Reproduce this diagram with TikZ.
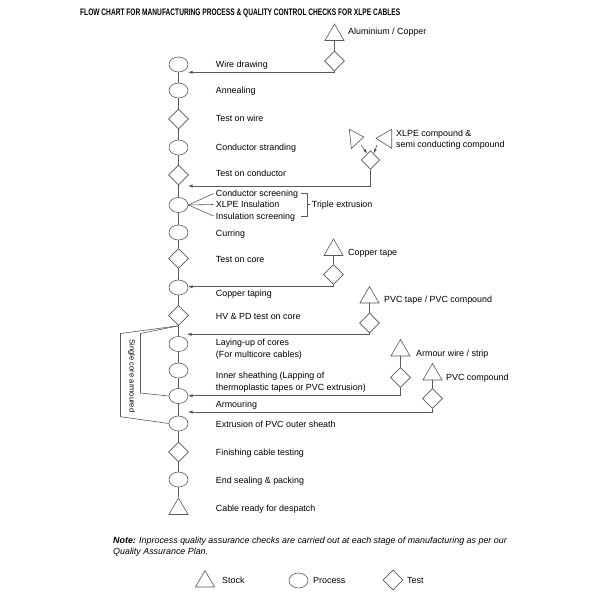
\documentclass[tikz,border=0pt]{standalone}
\usepackage{fontspec}
\setmainfont{Liberation Sans}
\usetikzlibrary{shapes.geometric,arrows.meta}
\tikzset{
  ln/.style={draw=black!65, line width=0.6pt},
  proc/.style={ellipse, ln, minimum width=19pt, minimum height=15pt, inner sep=0pt},
  test/.style={diamond, ln, minimum width=20pt, minimum height=20pt, inner sep=0pt},
  stock/.style={regular polygon, regular polygon sides=3, ln, minimum size=22pt, inner sep=0pt},
  lbl/.style={anchor=base west, inner sep=0pt, font=\fontsize{8.9}{11}\selectfont},
  arr/.style={ln, -{Latex[length=4.5pt,width=3.2pt]}}
}
\begin{document}
\begin{tikzpicture}[x=1pt,y=-1pt]
\useasboundingbox[fill=white] (0,0) rectangle (600,600);
% title
\node[anchor=base west, inner sep=0pt] (title) at (80,15.3)
  {\resizebox{320pt}{6.6pt}{\bfseries FLOW CHART FOR MANUFACTURING PROCESS \& QUALITY CONTROL CHECKS FOR XLPE CABLES}};
% spine
\node[proc] (e1) at (178.5,64.5) {};
\node[proc] (e2) at (178.5,90.5) {};
\node[test] (d1) at (178.5,119) {};
\node[proc] (e3) at (178.5,147.5) {};
\node[test] (d2) at (178.5,175) {};
\node[proc] (e4) at (178.5,205) {};
\node[proc] (e5) at (178.5,232.5) {};
\node[test] (d3) at (178.5,258.5) {};
\node[proc] (e6) at (178.5,287.5) {};
\node[test] (d4) at (178.5,315.5) {};
\node[proc] (e7) at (178.5,344) {};
\node[proc] (e8) at (178.5,370.5) {};
\node[proc] (e9) at (178.5,396) {};
\node[proc] (e10) at (178.5,423.5) {};
\node[test] (d5) at (178.5,452) {};
\node[proc] (e11) at (178.5,479.5) {};
\node[stock] (t1) at (178.5,509) {};
\draw[ln] (e1) -- (e2) -- (d1) -- (e3) -- (d2) -- (e4) -- (e5) -- (d3) -- (e6) -- (d4) -- (e7) -- (e8) -- (e9) -- (e10) -- (d5) -- (e11) -- (t1);
% labels
\node[lbl] (l1) at (215.7,67.3) {Wire drawing};
\node[lbl] (l2) at (215.7,93.3) {Annealing};
\node[lbl] (l3) at (215.7,121.3) {Test on wire};
\node[lbl] (l4) at (215.7,150.3) {Conductor stranding};
\node[lbl] (l5) at (215.7,176.3) {Test on conductor};
\node[lbl] (l6a) at (215.7,196) {Conductor screening};
\node[lbl] (l6b) at (215.7,207.3) {XLPE Insulation};
\node[lbl] (l6c) at (215.7,219) {Insulation screening};
\node[lbl] (l6d) at (311.7,207.3) {Triple extrusion};
\node[lbl] (l7) at (215.7,236.3) {Curring};
\node[lbl] (l8) at (215.7,262.3) {Test on core};
\node[lbl] (l9) at (215.7,296.3) {Copper taping};
\node[lbl] (l10) at (215.7,319.3) {HV \& PD test on core};
\node[lbl] (l11a) at (215.7,345.3) {Laying-up of cores};
\node[lbl] (l11b) at (215.7,357.3) {(For multicore cables)};
\node[lbl] (l12a) at (215.7,378.3) {Inner sheathing (Lapping of};
\node[lbl] (l12b) at (215.7,390.3) {thermoplastic tapes or PVC extrusion)};
\node[lbl] (l13) at (215.7,407.3) {Armouring};
\node[lbl] (l14) at (215.7,427.3) {Extrusion of PVC outer sheath};
\node[lbl] (l15) at (215.7,455.3) {Finishing cable testing};
\node[lbl] (l16) at (215.7,483.3) {End sealing \& packing};
\node[lbl] (l17) at (215.7,511.3) {Cable ready for despatch};
% triple extrusion fan and bracket
\coordinate (fa) at (213.5,193.5);
\coordinate (fb) at (213.5,204.5);
\coordinate (fc) at (213.5,216);
\draw[ln] (e4.east) -- (fa);
\draw[ln] (e4.east) -- (fb);
\draw[ln] (e4.east) -- (fc);
\coordinate (ba) at (301,193.5);
\coordinate (bc) at (301,216);
\coordinate (bm) at (310,204.5);
\draw[ln] (ba) -- (307.3,193.5) -- (307.3,216) -- (bc);
\draw[ln] (307.3,204.5) -- (bm);
% Aluminium / Copper
\node[stock] (tA) at (334.5,35) {};
\node[test] (dA) at (334.5,61) {};
\node[lbl] (lA) at (348,34.3) {Aluminium / Copper};
\coordinate (aA) at (188,72.3);
\draw[ln] (tA) -- (dA);
\draw[arr] (dA.south) |- (aA);
% XLPE compound
\draw[ln] (349.3,129.3) -- (363.8,137) -- (351.3,148.5) -- cycle;
\draw[ln] (391.7,129.3) -- (376,138.3) -- (391.7,148.3) -- cycle;
\node[test, minimum width=18.5pt, minimum height=18.5pt] (dX) at (370.5,160) {};
\coordinate (xs1) at (361,145);
\coordinate (xe1) at (367.2,153.5);
\coordinate (xs2) at (377,145);
\coordinate (xe2) at (373.8,153.5);
\draw[arr] (xs1) -- (xe1);
\draw[arr] (xs2) -- (xe2);
\node[lbl] (lX1) at (396,136.3) {XLPE compound \&};
\node[lbl] (lX2) at (396,147.3) {semi conducting compound};
\coordinate (aX) at (188,186);
\draw[arr] (dX.south) |- (aX);
% Copper tape
\node[stock] (tC) at (333.5,250) {};
\node[test] (dC) at (333.5,274.5) {};
\node[lbl] (lC) at (348,255.3) {Copper tape};
\coordinate (aC) at (188,286.7);
\draw[ln] (tC) -- (dC);
\draw[arr] (dC.south) |- (aC);
% PVC tape
\node[stock] (tP) at (369.5,297.5) {};
\node[test] (dP) at (369.5,323) {};
\node[lbl] (lP) at (384,302.3) {PVC tape / PVC compound};
\coordinate (aP) at (187,334.3);
\draw[ln] (tP) -- (dP);
\draw[arr] (dP.south) |- (aP);
% Armour wire
\node[stock] (tW) at (400.5,350.5) {};
\node[test] (dW) at (400.5,377.5) {};
\node[lbl] (lW) at (416,356.3) {Armour wire / strip};
\coordinate (aW) at (188,395.7);
\draw[ln] (tW) -- (dW);
\draw[arr] (dW.south) |- (aW);
% PVC compound
\node[stock] (tV) at (432.5,374.5) {};
\node[test] (dV) at (432.5,398.5) {};
\node[lbl] (lV) at (446,380.3) {PVC compound};
\coordinate (aV) at (188,412);
\draw[ln] (tV) -- (dV);
\draw[arr] (dV.south) |- (aV);
% single core armoured bypass
\draw[ln] (d4.south) -- (120.5,333.5) -- (120.5,416.7) -- (e10.west);
\draw[ln] (d4.south) -- (140.5,333.5) -- (140.5,393) -- (e9.west);
\node[inner sep=0pt, rotate=-90, font=\fontsize{7.6}{9}\selectfont] (sc) at (131.5,376) {Single core armoured};
% note
\node[lbl, font=\fontsize{8.9}{11}\selectfont\itshape] (n1) at (113,543.3) {\textbf{Note:} Inprocess quality assurance checks are carried out at each stage of manufacturing as per our};
\node[lbl, font=\fontsize{8.9}{11}\selectfont\itshape] (n2) at (113,554.8) {Quality Assurance Plan.};
% legend
\node[stock] (gT) at (205,581.5) {};
\node[lbl] (gTl) at (222,583.8) {Stock};
\node[proc] (gP) at (298.5,580.5) {};
\node[lbl] (gPl) at (313,583.8) {Process};
\node[test] (gD) at (393,580) {};
\node[lbl] (gDl) at (407,583.8) {Test};
\end{tikzpicture}
\end{document}
